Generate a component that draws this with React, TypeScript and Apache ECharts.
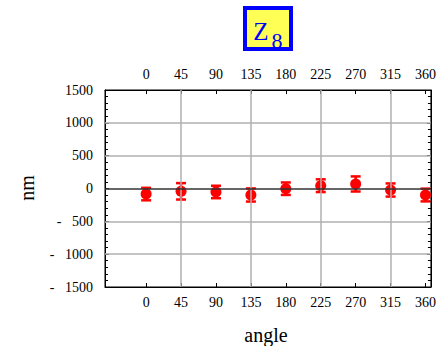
import React, { useEffect, useRef } from "react";
import * as echarts from "echarts";

const angles = [0, 45, 90, 135, 180, 225, 270, 315, 360];
const values = [-85, -43, -53, -99, -3, 43, 69, -23, -99];
const errors = [95, 125, 95, 100, 95, 97, 115, 100, 97];
const xTicks = [0, 45, 90, 135, 180, 225, 270, 315, 360];
const xGrid = [45, 135, 225, 315];
const yGrid = [-1000, -500, 500, 1000];

const FONT = "Liberation Serif";

export default function App() {
  const ref = useRef<HTMLDivElement>(null);
  useEffect(() => {
    if (!ref.current) return;
    const chart = echarts.init(ref.current, undefined, { renderer: "svg" });
    const yLabel = (v: number) => (v < 0 ? "-   " + Math.abs(v) : String(v));
    const baseX = {
      type: "value" as const,
      min: -53,
      max: 367,
      axisLine: { show: true, onZero: false, lineStyle: { color: "#000", width: 1 } },
      axisTick: { show: true, inside: true, length: 4, customValues: xTicks, lineStyle: { color: "#000" } },
      axisLabel: { show: true, customValues: xTicks, fontFamily: FONT, fontSize: 14, color: "#000", margin: 8 },
      splitLine: { show: false },
    };
    const baseY = {
      type: "value" as const,
      min: -1500,
      max: 1500,
      interval: 500,
      axisLine: { show: true, onZero: false, lineStyle: { color: "#000", width: 1 } },
      axisTick: { show: true, inside: true, length: 4, lineStyle: { color: "#000" } },
      minorTick: { show: true, splitNumber: 5, length: 3, lineStyle: { color: "#000" } },
      splitLine: { show: false },
    };
    chart.setOption({
      animation: false,
      backgroundColor: "#fff",
      textStyle: { fontFamily: FONT },
      grid: { left: 105, top: 90, right: 5, bottom: 59, show: true, borderColor: "#000", borderWidth: 1 },
      xAxis: [
        { ...baseX, position: "bottom" },
        { ...baseX, position: "top", axisLabel: { ...baseX.axisLabel, margin: 9 } },
      ],
      yAxis: [
        {
          ...baseY,
          position: "left",
          axisLabel: { show: true, formatter: yLabel, fontFamily: FONT, fontSize: 14, color: "#000", margin: 12 },
        },
        { ...baseY, position: "right", axisLabel: { show: false } },
      ],
      graphic: [
        {
          type: "rect",
          shape: { x: 245, y: 8, width: 46, height: 41 },
          style: { fill: "#ffff55", stroke: "#0000ff", lineWidth: 4 },
          z: 10,
        },
        {
          type: "text",
          x: 261,
          y: 31,
          style: { text: "Z", fontFamily: FONT, fontSize: 25, fill: "#0000ff", textAlign: "center", textVerticalAlign: "middle" },
          z: 11,
        },
        {
          type: "text",
          x: 277,
          y: 40,
          style: { text: "8", fontFamily: FONT, fontSize: 22, fill: "#0000ff", textAlign: "center", textVerticalAlign: "middle" },
          z: 11,
        },
        {
          type: "text",
          x: 266,
          y: 335,
          style: { text: "angle", fontFamily: FONT, fontSize: 20, fill: "#000", textAlign: "center", textVerticalAlign: "middle" },
        },
        {
          type: "text",
          x: 27,
          y: 188,
          rotation: Math.PI / 2,
          style: { text: "nm", fontFamily: FONT, fontSize: 20, fill: "#000", textAlign: "center", textVerticalAlign: "middle" },
        },
      ],
      series: [
        {
          type: "scatter",
          data: [],
          z: 1,
          markLine: {
            silent: true,
            symbol: "none",
            label: { show: false },
            animation: false,
            data: [
              ...xGrid.map((v) => ({ xAxis: v, lineStyle: { color: "#b0b0b0", width: 1.5, type: "solid" } })),
              ...yGrid.map((v) => ({ yAxis: v, lineStyle: { color: "#b0b0b0", width: 1.5, type: "solid" } })),
              { yAxis: 0, lineStyle: { color: "#333", width: 1.5, type: "solid" } },
            ],
          },
        },
        {
          type: "custom",
          z: 3,
          data: angles.map((a, i) => [a, values[i] - errors[i], values[i] + errors[i]]),
          encode: { x: 0, y: [1, 2] },
          renderItem: (params: any, api: any) => {
            const lo = api.coord([api.value(0), api.value(1)]);
            const hi = api.coord([api.value(0), api.value(2)]);
            const w = 5;
            const st = { stroke: "#ff0000", lineWidth: 2.5 };
            return {
              type: "group",
              children: [
                { type: "line", shape: { x1: lo[0], y1: lo[1], x2: hi[0], y2: hi[1] }, style: st },
                { type: "line", shape: { x1: lo[0] - w, y1: lo[1], x2: lo[0] + w, y2: lo[1] }, style: st },
                { type: "line", shape: { x1: hi[0] - w, y1: hi[1], x2: hi[0] + w, y2: hi[1] }, style: st },
              ],
            };
          },
        },
        {
          type: "scatter",
          z: 4,
          symbol: "circle",
          symbolSize: 11,
          itemStyle: { color: "#ff0000", opacity: 1 },
          data: angles.map((a, i) => [a, values[i]]),
        },
      ],
    });
    return () => chart.dispose();
  }, []);
  return (
    <div
      ref={ref}
      style={{ position: "absolute", left: 0, top: 0, width: 439, height: 346 }}
    />
  );
}
